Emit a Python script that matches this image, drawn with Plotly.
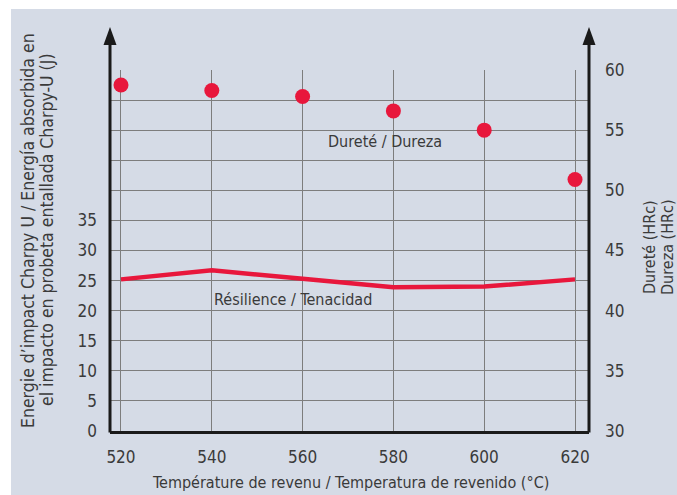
import plotly.graph_objects as go

temps = [520, 540, 560, 580, 600, 620]
hardness = [58.75, 58.3, 57.8, 56.6, 55.0, 50.9]
toughness = [25.2, 26.7, 25.3, 23.9, 24.0, 25.2]
left_ticks = list(range(0, 65, 5))
left_labels = [str(v) if v <= 35 else "" for v in left_ticks]
right_ticks = list(range(30, 65, 5))

W, H = 677, 495
PL, PR, PT, PB = 110, 589, 70, 431   # plot area in page pixels
L, R, T, B = PL, W - PR, PT, H - PB
PW, PH = PR - PL, PB - PT
BG = "#d5dbe6"
RED = "#e8173c"
GRID = "#7d7d7d"
TXT = "#3a3a3a"
FONT = "Liberation Sans Narrow, DejaVu Sans Condensed, Arial Narrow, sans-serif"
FS = 16

def px(x):
    return (x - PL) / PW

def py(y):
    return (PB - y) / PH

fig = go.Figure()
fig.add_trace(go.Scatter(x=temps, y=toughness, mode="lines",
                         line=dict(color=RED, width=4.5), yaxis="y", showlegend=False))
fig.add_trace(go.Scatter(x=temps, y=hardness, mode="markers",
                         marker=dict(color=RED, size=15), yaxis="y2", showlegend=False))

shapes = []
# white strips top/left
shapes.append(dict(type="rect", xref="paper", yref="paper", x0=px(-5), x1=px(11), y0=py(H + 5), y1=py(-5),
                   fillcolor="white", line=dict(width=0), layer="below"))
shapes.append(dict(type="rect", xref="paper", yref="paper", x0=px(-5), x1=px(W + 5), y0=py(9), y1=py(-5),
                   fillcolor="white", line=dict(width=0), layer="below"))
# vertical axis lines with arrows
for xa in (PL, PR):
    shapes.append(dict(type="line", xref="paper", yref="paper", x0=px(xa), x1=px(xa),
                       y0=py(PB + 1.5), y1=py(42), line=dict(color="#1a1a1a", width=3)))
    path = f"M {px(xa)} {py(27)} L {px(xa - 6.5)} {py(45)} L {px(xa + 6.5)} {py(45)} Z"
    shapes.append(dict(type="path", xref="paper", yref="paper", path=path,
                       fillcolor="#1a1a1a", line=dict(width=0)))

annots = []
def ann(text, x, y, angle=0, size=FS):
    annots.append(dict(text=text, xref="paper", yref="paper", x=px(x), y=py(y),
                       xanchor="center", yanchor="middle", showarrow=False, textangle=angle,
                       font=dict(family=FONT, size=size, color=TXT)))

ann("Dureté / Dureza", 385, 141)
ann("Résilience / Tenacidad", 293, 299)
ann("Température de revenu / Temperatura de revenido (°C)", 350, 482)
ann("Energie d’impact Charpy U / Energía absorbida en", 28, 231, -90, 17.5)
ann("el impacto en probeta entallada Charpy-U (J)", 47, 230, -90, 17.5)
ann("Dureté (HRc)", 649, 247, -90)
ann("Dureza (HRc)", 667, 247, -90)

fig.update_layout(
    width=W, height=H,
    margin=dict(l=L, r=R, t=T, b=B, pad=0),
    paper_bgcolor=BG, plot_bgcolor=BG,
    font=dict(family=FONT, size=FS, color=TXT),
    xaxis=dict(range=[517.58, 623.08], tickvals=temps, showgrid=True, gridcolor=GRID, gridwidth=1,
               zeroline=False, showline=True, linecolor="#1a1a1a", linewidth=3,
               ticks="", ticklabelstandoff=9, tickfont=dict(size=17)),
    yaxis=dict(range=[0, 60], tickvals=left_ticks, ticktext=left_labels, showgrid=True,
               gridcolor=GRID, gridwidth=1, zeroline=False, showline=False, ticks="",
               ticklabelstandoff=12, tickfont=dict(size=17)),
    yaxis2=dict(range=[30, 60], tickvals=right_ticks, overlaying="y", side="right",
                showgrid=False, zeroline=False, showline=False, ticks="", ticklabelstandoff=15,
                tickfont=dict(size=17)),
    shapes=shapes, annotations=annots, showlegend=False,
)

fig.write_html(
    "out.html",
    config={"displayModeBar": False},
    post_script="document.body.style.margin='0';document.documentElement.style.overflow='hidden';",
)
